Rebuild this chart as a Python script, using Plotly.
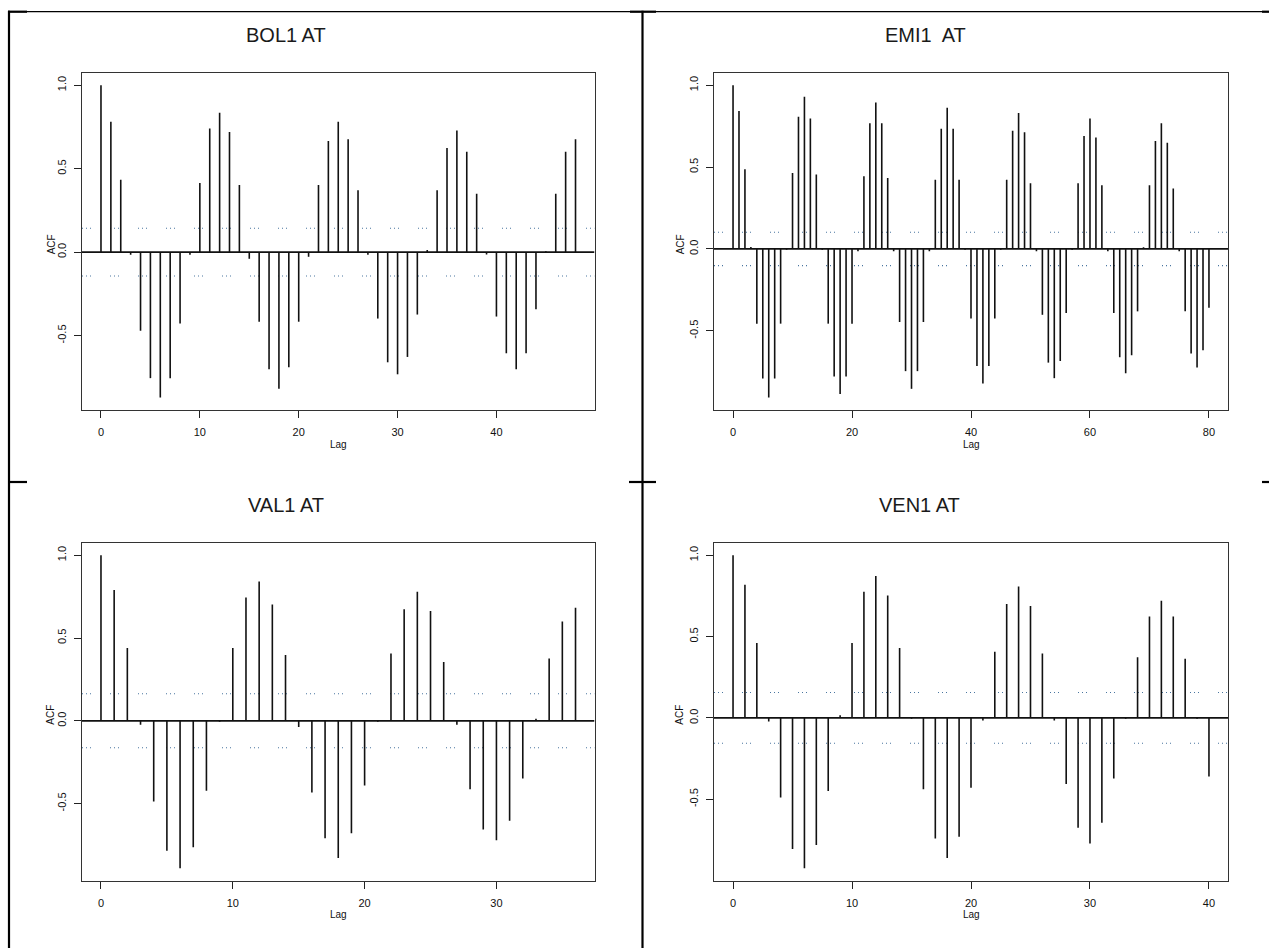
import plotly.graph_objects as go

W, H = 1269, 948

titles = ["BOL1 AT", "EMI1  AT", "VAL1 AT", "VEN1 AT"]

bol1_acf = [1.0, 0.781, 0.433, -0.016, -0.471, -0.755, -0.871, -0.755, -0.427, -0.016,
            0.414, 0.740, 0.835, 0.720, 0.402, -0.040, -0.417, -0.702, -0.819, -0.690,
            -0.417, -0.028, 0.402, 0.666, 0.781, 0.676, 0.370, -0.016, -0.398, -0.660,
            -0.732, -0.628, -0.374, 0.012, 0.370, 0.624, 0.728, 0.602, 0.350, -0.014,
            -0.386, -0.606, -0.702, -0.606, -0.342, 0.005, 0.350, 0.602, 0.676]

emi1_acf = [1.0, 0.842, 0.487, 0.012, -0.456, -0.791, -0.907, -0.791, -0.456, -0.005,
            0.464, 0.807, 0.929, 0.797, 0.454, -0.005, -0.456, -0.779, -0.886, -0.779,
            -0.456, -0.014, 0.444, 0.767, 0.895, 0.767, 0.434, -0.014, -0.446, -0.746,
            -0.854, -0.746, -0.446, -0.014, 0.422, 0.734, 0.862, 0.734, 0.422, -0.005,
            -0.424, -0.714, -0.822, -0.714, -0.424, -0.005, 0.422, 0.722, 0.830, 0.712,
            0.402, -0.014, -0.402, -0.694, -0.789, -0.684, -0.391, -0.005, 0.402, 0.690,
            0.797, 0.680, 0.389, -0.014, -0.391, -0.661, -0.759, -0.649, -0.381, 0.010,
            0.389, 0.659, 0.767, 0.649, 0.369, -0.014, -0.381, -0.639, -0.724, -0.619,
            -0.359]

val1_acf = [1.0, 0.790, 0.439, -0.024, -0.487, -0.784, -0.890, -0.764, -0.423, -0.005,
            0.439, 0.745, 0.842, 0.703, 0.397, -0.038, -0.433, -0.709, -0.828, -0.679,
            -0.391, -0.005, 0.407, 0.673, 0.780, 0.663, 0.355, -0.024, -0.413, -0.657,
            -0.721, -0.603, -0.349, 0.012, 0.377, 0.599, 0.683]

ven1_acf = [1.0, 0.818, 0.461, -0.022, -0.490, -0.806, -0.924, -0.782, -0.449, 0.016,
            0.461, 0.776, 0.873, 0.753, 0.429, -0.005, -0.439, -0.741, -0.861, -0.731,
            -0.429, -0.016, 0.406, 0.700, 0.808, 0.688, 0.396, -0.016, -0.406, -0.676,
            -0.773, -0.645, -0.373, -0.005, 0.373, 0.624, 0.720, 0.624, 0.363, -0.005,
            -0.361]

ci_bounds = [0.143, 0.102, 0.163, 0.156]

x_tick_vals = [[0, 10, 20, 30, 40], [0, 20, 40, 60, 80], [0, 10, 20, 30], [0, 10, 20, 30, 40]]
y_tick_vals = [-0.5, 0.0, 0.5, 1.0]
y_tick_text = ["-0.5", "0.0", "0.5", "1.0"]

series = [bol1_acf, emi1_acf, val1_acf, ven1_acf]

# pixel boxes of plot areas: (left, right, top, bottom)
boxes = [(82, 594.5, 72.7, 410.0), (714, 1228, 72.7, 410.0),
         (82, 594.5, 542.7, 880.7), (714, 1228, 542.7, 880.7)]
title_pos = [(286, 35), (925, 35), (286, 505), (919, 505)]
acf_x = [51, 680, 51, 680]

FONT = "Liberation Sans, Arial, sans-serif"

fig = go.Figure()
layout = {}
annotations = []

for i, (acf, ci, box) in enumerate(zip(series, ci_bounds, boxes)):
    n = len(acf) - 1
    xs, ys = [], []
    for lag, v in enumerate(acf):
        xs += [lag, lag, None]
        ys += [0, v, None]
    xr = [-0.04 * n, 1.04 * n]
    lo = min(min(acf), -ci)
    hi = max(max(acf), ci)
    ext = 0.04 * (hi - lo)
    yr = [lo - ext, hi + ext]
    sfx = "" if i == 0 else str(i + 1)
    xa, ya = "x" + sfx, "y" + sfx

    for s in (ci, -ci):
        fig.add_trace(go.Scatter(x=xr, y=[s, s], mode="lines",
                                 line=dict(color="#4a76a0", width=1.1,
                                           dash="1px,3px,1px,3px,1px,19px"),
                                 xaxis=xa, yaxis=ya, showlegend=False, hoverinfo="skip"))
    fig.add_trace(go.Scatter(x=xr, y=[0, 0], mode="lines",
                             line=dict(color="#111111", width=1.7),
                             xaxis=xa, yaxis=ya, showlegend=False, hoverinfo="skip"))
    fig.add_trace(go.Scatter(x=xs, y=ys, mode="lines",
                             line=dict(color="#111111", width=1.6),
                             xaxis=xa, yaxis=ya, showlegend=False, hoverinfo="skip"))

    l, r, t, b = box
    layout["xaxis" + sfx] = dict(
        domain=[l / W, r / W], range=xr, anchor=ya,
        tickvals=x_tick_vals[i], ticktext=[str(v) for v in x_tick_vals[i]],
        ticks="outside", ticklen=7, tickwidth=1.2, tickcolor="#222",
        showline=True, mirror=True, linecolor="#333", linewidth=1.3,
        showgrid=False, zeroline=False, ticklabelstandoff=5,
        tickfont=dict(family=FONT, size=11, color="#111"))
    layout["yaxis" + sfx] = dict(
        domain=[1 - b / H, 1 - t / H], range=yr, anchor=xa,
        tickvals=y_tick_vals, ticktext=y_tick_text, tickangle=-90,
        ticks="outside", ticklen=7, tickwidth=1.2, tickcolor="#222",
        showline=True, mirror=True, linecolor="#333", linewidth=1.3,
        showgrid=False, zeroline=False, ticklabelstandoff=3,
        tickfont=dict(family=FONT, size=11, color="#111"))

    tx, ty = title_pos[i]
    annotations.append(dict(text=titles[i], x=tx / W, y=1 - ty / H, xref="paper", yref="paper",
                            xanchor="center", yanchor="middle", showarrow=False,
                            font=dict(family=FONT, size=20, color="#1a1a1a")))
    annotations.append(dict(text="Lag", x=(l + r) / 2 / W, y=1 - (b + 34) / H,
                            xref="paper", yref="paper", xanchor="center", yanchor="middle",
                            showarrow=False, font=dict(family=FONT, size=10, color="#111")))
    annotations.append(dict(text="ACF", x=acf_x[i] / W, y=1 - ((t + b) / 2 + 3) / H,
                            xref="paper", yref="paper", xanchor="center", yanchor="middle",
                            textangle=-90, showarrow=False,
                            font=dict(family=FONT, size=10, color="#111")))

# table borders (paper coordinates, converted from pixels)
def hline(x0, x1, y, w):
    return dict(type="line", xref="paper", yref="paper", x0=x0 / W, x1=x1 / W,
                y0=1 - y / H, y1=1 - y / H, line=dict(color="black", width=w))

def vline(x, y0, y1, w):
    return dict(type="line", xref="paper", yref="paper", x0=x / W, x1=x / W,
                y0=1 - y0 / H, y1=1 - y1 / H, line=dict(color="black", width=w))

shapes = [
    hline(9, 1269, 11.7, 1.3),
    hline(8, 27, 11.7, 2.2), hline(630, 656, 11.7, 2.2), hline(1262, 1269, 11.7, 2.2),
    vline(9, 10.7, 948, 2.2),
    vline(642.5, 10.7, 948, 2.2),
    hline(8, 27, 482, 2.2), hline(629, 656, 482, 2.2), hline(1262, 1269, 482, 2.2),
]

fig.update_layout(
    width=W, height=H, margin=dict(l=0, r=0, t=0, b=0),
    paper_bgcolor="white", plot_bgcolor="white",
    showlegend=False, annotations=annotations, shapes=shapes,
    **layout)

fig.write_html("out.html")
